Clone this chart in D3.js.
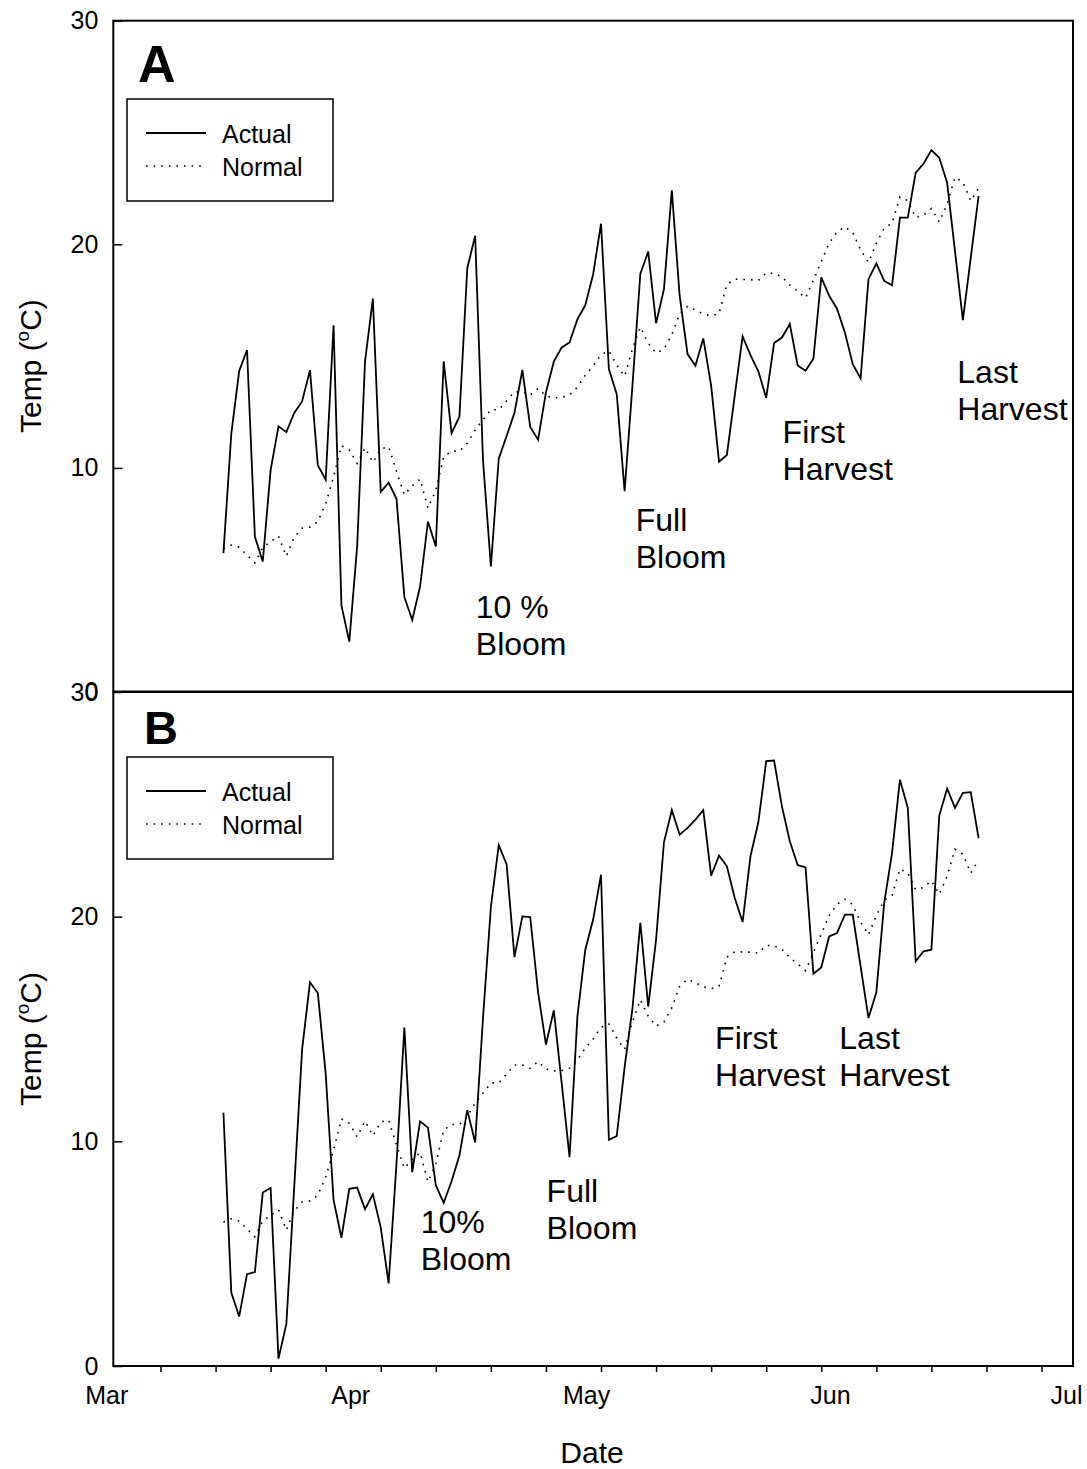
<!DOCTYPE html>
<html lang="en">
<head>
    <meta charset="UTF-8">
    <title>Temperature: Actual vs Normal</title>
    <script src="https://d3js.org/d3.v7.min.js"></script>
    <style>
        body {
            margin: 0;
            background-color: #fff;
        }
        text {
            font-family: Arial, "Liberation Sans", sans-serif;
            fill: #000;
        }
        .frame {
            fill: none;
            stroke: #000;
            stroke-width: 2px;
        }
        .actual {
            fill: none;
            stroke: #000;
            stroke-width: 1.8px;
        }
        .normal {
            fill: none;
            stroke: #000;
            stroke-width: 1.6px;
            stroke-dasharray: 1.6, 6;
        }
    </style>
</head>
<body>
    <div id="chart"></div>

    <script>
        // Daily values, first day = Mar 15
        const firstDay = "2001-03-15";

        const normalTemp = [
            6.4, 6.55, 6.45, 6.1, 5.75, 6.45, 6.7, 6.95, 6.05, 6.9,
            7.3, 7.35, 7.6, 8.4, 9.6, 11.0, 10.8, 10.2, 10.9, 10.25,
            10.85, 10.95, 9.85, 8.8, 9.2, 9.5, 8.2, 9.0, 10.5, 10.75,
            10.75, 11.1, 11.7, 12.15, 12.6, 12.6, 13.0, 13.4, 13.4, 13.25,
            13.55, 13.22, 13.13, 13.15, 13.25, 13.62, 14.15, 14.55, 15.07, 15.23,
            14.6, 14.1, 15.32, 16.3, 15.58, 15.13, 15.32, 15.95, 16.9, 17.22,
            17.06, 16.88, 16.8, 16.9, 18.2, 18.44, 18.43, 18.42, 18.38, 18.72,
            18.7, 18.55, 18.17, 17.9, 17.6, 18.4, 19.23, 20.05, 20.55, 20.78,
            20.53, 19.75, 19.19, 20.05, 20.72, 20.95, 22.12, 21.95, 21.2, 21.3,
            21.6, 21.0, 21.8, 23.0, 22.78, 21.94, 22.52
        ];

        const actualA = [
            6.19, 11.52, 14.33, 15.27, 6.92, 5.81, 9.9, 11.86, 11.6, 12.46,
            12.97, 14.37, 10.12, 9.47, 16.38, 3.85, 2.23, 6.49, 14.76, 17.57,
            8.93, 9.34, 8.62, 4.23, 3.2, 4.7, 7.6, 6.49, 14.76, 11.55,
            12.29, 18.93, 20.38, 10.33, 5.59, 10.41, 11.43, 12.46, 14.38, 11.83,
            11.26, 13.38, 14.75, 15.39, 15.61, 16.65, 17.28, 18.66, 20.92, 14.42,
            13.3, 8.96, 13.7, 18.69, 19.67, 16.47, 17.99, 22.41, 17.69, 15.09,
            14.57, 15.79, 13.68, 10.28, 10.58, 13.23, 15.88, 15.04, 14.32, 13.13,
            15.58, 15.83, 16.43, 14.58, 14.35, 14.88, 18.52, 17.7, 17.12, 16.06,
            14.64, 14.0, 18.44, 19.15, 18.36, 18.17, 21.19, 21.19, 23.2, 23.6,
            24.21, 23.87, 22.75, 19.69, 16.61, 19.39, 22.16
        ];

        const actualB = [
            11.27, 3.27, 2.2, 4.09, 4.18, 7.72, 7.92, 0.33, 1.87, 7.97,
            14.08, 17.08, 16.6, 13.0, 7.39, 5.7, 7.89, 7.94, 6.98, 7.64,
            6.16, 3.68, 9.0, 15.06, 8.63, 10.89, 10.61, 8.05, 7.26, 8.22,
            9.37, 11.39, 9.95, 15.5, 20.43, 23.18, 22.33, 18.2, 20.01, 19.98,
            16.63, 14.31, 15.83, 12.59, 9.3, 15.56, 18.53, 19.87, 21.87, 10.07,
            10.24, 13.3, 15.93, 19.72, 16.0, 18.98, 23.31, 24.74, 23.65, 23.95,
            24.32, 24.74, 21.83, 22.72, 22.24, 20.83, 19.76, 22.69, 24.2, 26.92,
            26.95, 24.91, 23.36, 22.3, 22.19, 17.46, 17.74, 19.12, 19.27, 20.09,
            20.09, 17.79, 15.49, 16.63, 20.61, 22.84, 26.1, 24.84, 18.01, 18.46,
            18.53, 24.5, 25.7, 24.84, 25.51, 25.54, 23.5
        ];

        const yTicks = [0, 10, 20, 30];
        const seriesNames = ["Actual", "Normal"];

        // Stage annotations (date, temperature at first baseline)
        const stagesA = [
            { lines: ["10 %", "Bloom"], date: "2001-04-16T02:00", temp: 3.3 },
            { lines: ["Full", "Bloom"], date: "2001-05-06T10:00", temp: 7.2 },
            { lines: ["First", "Harvest"], date: "2001-05-25T02:00", temp: 11.1 },
            { lines: ["Last", "Harvest"], date: "2001-06-16T07:00", temp: 13.8 }
        ];
        const stagesB = [
            { lines: ["10%", "Bloom"], date: "2001-04-09T02:00", temp: 5.9 },
            { lines: ["Full", "Bloom"], date: "2001-04-25T02:00", temp: 7.3 },
            { lines: ["First", "Harvest"], date: "2001-05-16T12:00", temp: 14.1 },
            { lines: ["Last", "Harvest"], date: "2001-06-01T07:00", temp: 14.1 }
        ];

        const parse = d3.isoParse;
        const start = parse(firstDay);
        const days = normalTemp.map((_, i) => d3.timeDay.offset(start, i));

        const W = 1087, H = 1469;
        const left = 113.3, right = 1073;

        const svg = d3.select('#chart')
            .append('svg')
            .attr('width', W)
            .attr('height', H);

        const x = d3.scaleTime()
            .domain([parse("2001-03-01"), parse("2001-07-01")])
            .range([left, right]);

        const panels = [
            { tag: "A", actual: actualA, stages: stagesA, top: 20.7, bottom: 691.5,
              legendTop: 99, tagX: 138, tagY: 82, tagSize: 52 },
            { tag: "B", actual: actualB, stages: stagesB, top: 692, bottom: 1366,
              legendTop: 757, tagX: 144, tagY: 744, tagSize: 47 }
        ];

        panels.forEach(p => {
            const y = d3.scaleLinear().domain([0, 30]).range([p.bottom, p.top]);
            const g = svg.append('g');

            // y axis, inward ticks
            g.append('g')
                .attr('transform', `translate(${left},0)`)
                .call(d3.axisLeft(y).tickValues(yTicks).tickSizeInner(-9).tickSizeOuter(0).tickPadding(15))
                .call(a => a.select('.domain').remove())
                .call(a => a.selectAll('line').attr('stroke', '#000').attr('stroke-width', 1.5))
                .call(a => a.selectAll('text').style('font-size', '25px').attr('font-family', null));

            const line = d3.line()
                .x((d, i) => x(days[i]))
                .y(d => y(d));

            g.append('path')
                .datum(normalTemp)
                .attr('class', 'normal')
                .attr('d', line);

            g.append('path')
                .datum(p.actual)
                .attr('class', 'actual')
                .attr('d', line);

            // frame
            g.append('rect')
                .attr('class', 'frame')
                .attr('x', left)
                .attr('y', p.top)
                .attr('width', right - left)
                .attr('height', p.bottom - p.top);

            // panel tag
            g.append('text')
                .attr('x', p.tagX)
                .attr('y', p.tagY)
                .style('font-size', p.tagSize + 'px')
                .style('font-weight', 'bold')
                .text(p.tag);

            // legend
            const lg = g.append('g').attr('transform', `translate(127,${p.legendTop})`);
            lg.append('rect')
                .attr('width', 206)
                .attr('height', 102)
                .attr('fill', '#fff')
                .attr('stroke', '#000')
                .attr('stroke-width', 1.5);
            seriesNames.forEach((name, i) => {
                const yy = 34 + i * 33;
                lg.append('line')
                    .attr('class', i === 0 ? 'actual' : 'normal')
                    .attr('x1', 19).attr('x2', i === 0 ? 79 : 76)
                    .attr('y1', yy).attr('y2', yy);
                lg.append('text')
                    .attr('x', 95)
                    .attr('y', yy + 10)
                    .style('font-size', '25px')
                    .text(name);
            });

            // stage annotations
            p.stages.forEach(s => {
                const t = g.append('text')
                    .attr('x', x(parse(s.date)))
                    .attr('y', y(s.temp))
                    .style('font-size', '32px');
                s.lines.forEach((ln, i) => {
                    t.append('tspan')
                        .attr('x', x(parse(s.date)))
                        .attr('dy', i === 0 ? 0 : 37)
                        .text(ln);
                });
            });

            // y title
            const yt = g.append('text')
                .attr('transform', `translate(41,${(p.top + p.bottom) / 2 + 10}) rotate(-90)`)
                .attr('text-anchor', 'middle')
                .style('font-size', '30px');
            yt.append('tspan').text('Temp (');
            yt.append('tspan').style('font-size', '19px').attr('dy', -12).text('o');
            yt.append('tspan').attr('dy', 12).text('C)');
        });

        // x axis: weekly ticks, month labels
        const bottom = 1366;
        svg.append('g')
            .attr('transform', `translate(0,${bottom})`)
            .call(d3.axisBottom(x)
                .tickValues(d3.timeWednesday.range(parse("2001-03-01"), parse("2001-07-01")))
                .tickSize(6).tickSizeOuter(0).tickFormat(''))
            .call(a => a.select('.domain').remove())
            .call(a => a.selectAll('line').attr('stroke', '#000').attr('stroke-width', 1.5));

        svg.append('g')
            .attr('transform', `translate(-7,${bottom})`)
            .call(d3.axisBottom(x)
                .tickValues(d3.timeMonth.range(parse("2001-03-01"), parse("2001-07-02")))
                .tickSize(0).tickPadding(20)
                .tickFormat(d3.timeFormat('%b')))
            .call(a => a.select('.domain').remove())
            .call(a => a.selectAll('text').style('font-size', '25px').attr('font-family', null));

        svg.append('text')
            .attr('x', 592)
            .attr('y', 1463)
            .attr('text-anchor', 'middle')
            .style('font-size', '30px')
            .text('Date');
    </script>
</body>
</html>
